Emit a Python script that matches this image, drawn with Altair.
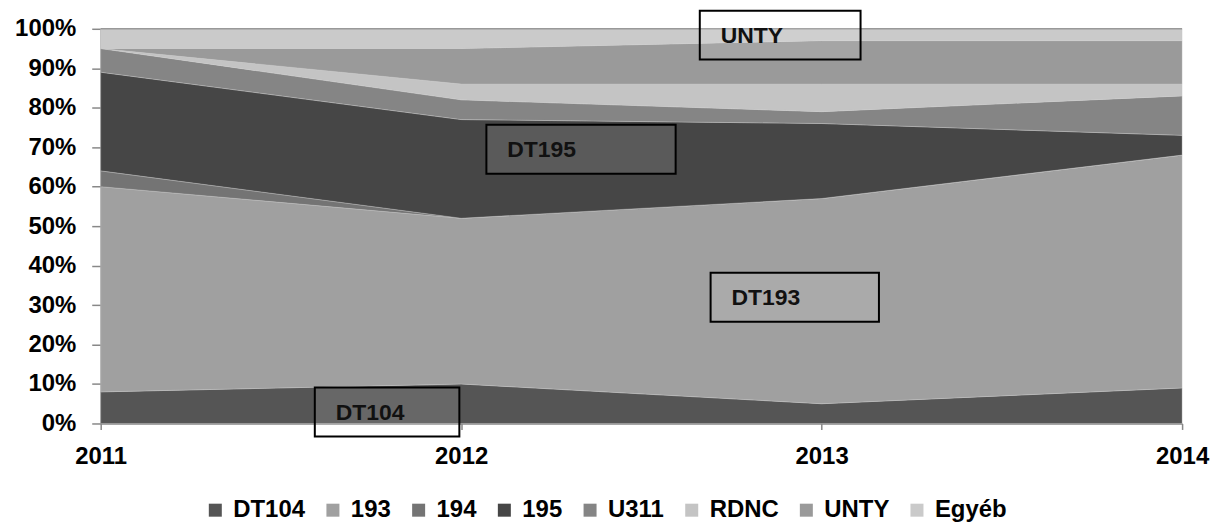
import altair as alt
import pandas as pd

years = [2011, 2012, 2013, 2014]
series = ["DT104", "193", "194", "195", "U311", "RDNC", "UNTY", "Egyéb"]
dt104 = [8, 10, 5, 9]
s193 = [52, 42, 52, 59]
s194 = [4, 0, 0, 0]
s195 = [25, 25, 19, 5]
u311 = [6, 5, 3, 10]
rdnc = [0, 4, 7, 3]
unty = [0, 9, 11, 11]
egyeb = [5, 5, 3, 3]
colors = ["#555555", "#a0a0a0", "#747474", "#464646", "#858585", "#c4c4c4", "#9a9a9a", "#cacaca"]

y_ticks = [0, 0.1, 0.2, 0.3, 0.4, 0.5, 0.6, 0.7, 0.8, 0.9, 1.0]

ann_labels = ["DT104", "DT195", "DT193", "UNTY"]
ann_x1 = [2011.594, 2012.070, 2012.692, 2012.662]
ann_x2 = [2011.995, 2012.595, 2013.159, 2013.108]
ann_y1 = [-0.033, 0.633, 0.258, 0.922]
ann_y2 = [0.091, 0.757, 0.382, 1.046]

values = [dt104, s193, s194, s195, u311, rdnc, unty, egyeb]
rows = []
for i, (name, vals) in enumerate(zip(series, values)):
    for yr, v in zip(years, vals):
        rows.append({"year": yr, "series": name, "share": v, "order": i})
df = pd.DataFrame(rows)

ann = pd.DataFrame({"label": ann_labels, "x1": ann_x1, "x2": ann_x2, "y1": ann_y1, "y2": ann_y2})

FONT = "Liberation Sans"
xscale = alt.Scale(domain=[2011, 2014], nice=False, zero=False)
yscale = alt.Scale(domain=[0, 1], nice=False)

xaxis = alt.Axis(
    values=years, format="d", grid=False, labelOverlap=False,
    domainColor="#888888", tickColor="#888888", tickSize=6, domainWidth=1.5, tickWidth=1.5,
    labelFont=FONT, labelFontSize=24, labelFontWeight="bold", labelColor="#000000",
    labelPadding=15, labelFlush=False)
yaxis = alt.Axis(
    values=y_ticks, format=".0%", grid=False, labelOverlap=False,
    domainColor="#888888", tickColor="#888888", tickSize=9, domainWidth=1.5, tickWidth=1.5,
    labelFont=FONT, labelFontSize=24, labelFontWeight="bold", labelColor="#000000",
    labelPadding=16)

area = alt.Chart(df).mark_area(opacity=1, stroke="#cfcfcf", strokeWidth=0.5, strokeOpacity=0.7).encode(
    x=alt.X("year:Q", scale=xscale, title=None, axis=xaxis),
    y=alt.Y("share:Q", stack="normalize", scale=yscale, title=None, axis=yaxis),
    color=alt.Color("series:N", sort=series, scale=alt.Scale(domain=series, range=colors),
                    legend=alt.Legend(orient="none", legendX=103, legendY=471, direction="horizontal",
                                      title=None, symbolType="square", symbolSize=170,
                                      symbolStrokeWidth=0, symbolOpacity=1, padding=0,
                                      labelFont=FONT, labelFontSize=24, labelFontWeight="bold",
                                      labelColor="#000000", labelOffset=6, columnPadding=15)),
    order=alt.Order("order:Q", sort="ascending"),
)

top = alt.Chart(pd.DataFrame({"v": [1.0]})).mark_rule(color="#999999", strokeWidth=1.5).encode(
    y=alt.Y("v:Q", scale=yscale, title=None, axis=yaxis)
)

boxes = alt.Chart(ann).mark_rect(fill="white", fillOpacity=0.11, stroke="black", strokeWidth=2).encode(
    x=alt.X("x1:Q", scale=xscale, title=None, axis=xaxis), x2="x2:Q",
    y=alt.Y("y1:Q", scale=yscale, title=None, axis=yaxis), y2="y2:Q",
)

texts = alt.Chart(ann).transform_calculate(ym="(datum.y1 + datum.y2) / 2").mark_text(
    align="left", baseline="middle", dx=21, dy=1, font=FONT, fontSize=23, fontWeight="bold", color="#111111"
).encode(
    x=alt.X("x1:Q", scale=xscale, title=None, axis=xaxis),
    y=alt.Y("ym:Q", scale=yscale, title=None, axis=yaxis),
    text="label:N",
)

chart = alt.layer(area, top, boxes, texts).properties(
    width=1085, height=396,
    autosize=alt.AutoSizeParams(type="none"),
    padding={"left": 93, "top": 20, "right": 28, "bottom": 99},
).configure_view(stroke=None).configure_axis(labelOverlap=False)

chart.save("out.html", embed_options={"renderer": "svg", "actions": False})
